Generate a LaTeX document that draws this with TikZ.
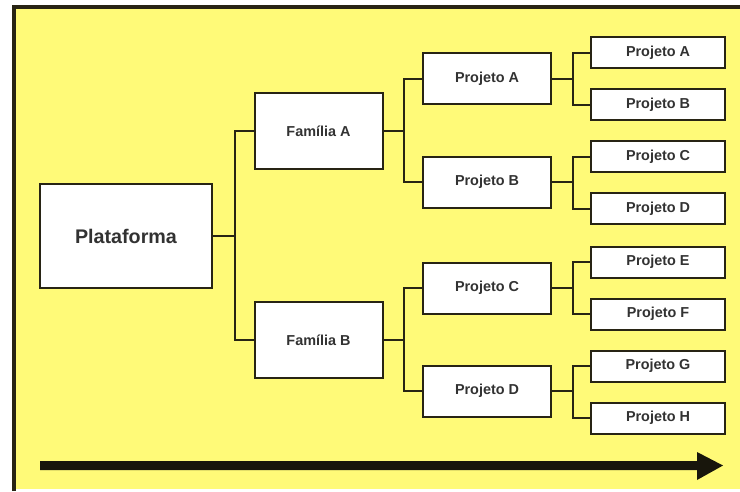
\documentclass[tikz,border=0pt]{standalone}
\usepackage{fontspec}
\setmainfont{Liberation Sans}
\definecolor{bgyellow}{RGB}{255,250,120}
\definecolor{edge}{RGB}{40,36,20}
\definecolor{txt}{RGB}{50,50,50}
\begin{document}
\begin{tikzpicture}[x=1pt,y=-1pt,
  box/.style={draw=edge,line width=2pt,fill=white,inner sep=0pt,
    font=\bfseries\fontsize{14.4}{16}\selectfont,text=txt},
  bigbox/.style={box,minimum width=172pt,minimum height=104pt,
    font=\bfseries\fontsize{19.7}{22}\selectfont},
  famb/.style={box,minimum width=128pt,minimum height=76pt},
  projb/.style={box,minimum width=128pt,minimum height=51pt},
  leafb/.style={box,minimum width=134pt,minimum height=31pt},
  link/.style={draw=edge,line width=2pt}]
\useasboundingbox (0,0) rectangle (740,491);
% frame and background
\fill[white] (0,0) rectangle (740,491);
\fill[bgyellow] (14,7) rectangle (740,489);
\draw[edge,line width=4pt] (14,491) -- (14,7) -- (740,7);

% nodes
\node[bigbox] (plat) at (126,236) {Plataforma};
\node[famb] (famA) at (318.5,131) {Família A};
\node[famb] (famB) at (318.5,340) {Família B};
\node[projb] (pA) at (487,78.5) {Projeto A};
\node[projb] (pB) at (487,182) {Projeto B};
\node[projb] (pC) at (487,288) {Projeto C};
\node[projb] (pD) at (487,391) {Projeto D};
\node[leafb] (lA) at (658,52.5) {Projeto A};
\node[leafb] (lB) at (658,104.5) {Projeto B};
\node[leafb] (lC) at (658,156.5) {Projeto C};
\node[leafb] (lD) at (658,208.5) {Projeto D};
\node[leafb] (lE) at (658,262) {Projeto E};
\node[leafb] (lF) at (658,314) {Projeto F};
\node[leafb] (lG) at (658,366) {Projeto G};
\node[leafb] (lH) at (658,418) {Projeto H};

% tree connectors
\draw[link] (plat.east) -- ++(22,0) coordinate (j0);
\draw[link] (famA.west) -| (j0) |- (famB.west);
\draw[link] (famA.east) -- ++(20,0) coordinate (j1);
\draw[link] (pA.west) -| (j1) |- (pB.west);
\draw[link] (famB.east) -- ++(20,0) coordinate (j2);
\draw[link] (pC.west) -| (j2) |- (pD.west);
\draw[link] (pA.east) -- ++(21,0) coordinate (j3);
\draw[link] (lA.west) -| (j3) |- (lB.west);
\draw[link] (pB.east) -- ++(21,0) coordinate (j4);
\draw[link] (lC.west) -| (j4) |- (lD.west);
\draw[link] (pC.east) -- ++(21,0) coordinate (j5);
\draw[link] (lE.west) -| (j5) |- (lF.west);
\draw[link] (pD.east) -- ++(21,0) coordinate (j6);
\draw[link] (lG.west) -| (j6) |- (lH.west);

% time arrow
\coordinate (ts) at (40,465.5);
\coordinate (te) at (723,465.5);
\fill[edge!60!black] (ts) ++(0,-4.5) -- (697,461) -- (697,452) -- (te)
  -- (697,480) -- (697,470) -- (40,470) -- cycle;
\end{tikzpicture}
\end{document}
